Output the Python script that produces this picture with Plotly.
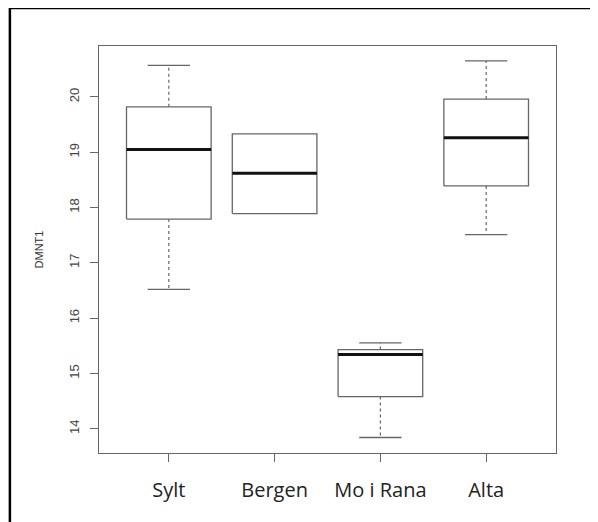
import plotly.graph_objects as go

# ---- data ----
categories = ["Sylt", "Bergen", "Mo i Rana", "Alta"]
lower_whisker = [16.52, 17.89, 13.84, 17.51]
q1 = [17.79, 17.89, 14.58, 18.39]
median = [19.05, 18.62, 15.34, 19.26]
q3 = [19.82, 19.33, 15.43, 19.96]
upper_whisker = [20.57, 19.33, 15.55, 20.65]
y_ticks = [14, 15, 16, 17, 18, 19, 20]
y_label = "DMNT1"

positions = list(range(1, len(categories) + 1))
half_box = 0.4
half_staple = 0.2
gray = "#666666"

def segs(pairs):
    xs, ys = [], []
    for (x0, y0, x1, y1) in pairs:
        xs += [x0, x1, None]
        ys += [y0, y1, None]
    return xs, ys

fig = go.Figure()

# boxes
bx, by = [], []
for p, a, b in zip(positions, q1, q3):
    bx += [p - half_box, p + half_box, p + half_box, p - half_box, p - half_box, None]
    by += [a, a, b, b, a, None]
fig.add_trace(go.Scatter(x=bx, y=by, mode="lines", line=dict(color=gray, width=1.3),
                         hoverinfo="skip", showlegend=False))

# dashed whiskers
wx, wy = segs([(p, b, p, u) for p, b, u in zip(positions, q3, upper_whisker) if u > b] +
              [(p, a, p, l) for p, a, l in zip(positions, q1, lower_whisker) if l < a])
fig.add_trace(go.Scatter(x=wx, y=wy, mode="lines", line=dict(color=gray, width=1.2, dash="3px,3px"),
                         hoverinfo="skip", showlegend=False))

# staples
sx, sy = segs([(p - half_staple, u, p + half_staple, u) for p, u, b in zip(positions, upper_whisker, q3) if u > b] +
              [(p - half_staple, l, p + half_staple, l) for p, l, a in zip(positions, lower_whisker, q1) if l < a])
fig.add_trace(go.Scatter(x=sx, y=sy, mode="lines", line=dict(color=gray, width=1.3),
                         hoverinfo="skip", showlegend=False))

# medians
mx, my = segs([(p - half_box, m, p + half_box, m) for p, m in zip(positions, median)])
fig.add_trace(go.Scatter(x=mx, y=my, mode="lines", line=dict(color="#111111", width=3),
                         hoverinfo="skip", showlegend=False))

fig.update_layout(
    width=590, height=514,
    margin=dict(l=91, r=42, t=38, b=69),
    paper_bgcolor="white", plot_bgcolor="white",
    showlegend=False,
    xaxis=dict(range=[0.34, 4.66], tickmode="array", tickvals=positions, ticktext=categories,
               ticks="outside", ticklen=8, tickcolor=gray, tickwidth=1.2,
               showline=True, linecolor=gray, linewidth=1.3, mirror=True,
               showgrid=False, zeroline=False, ticklabelstandoff=11,
               tickfont=dict(family="Open Sans", size=20, color="#222222")),
    yaxis=dict(range=[13.56, 20.92], tickmode="array", tickvals=y_ticks,
               ticks="outside", ticklen=8, tickcolor=gray, tickwidth=1.2,
               showline=True, linecolor=gray, linewidth=1.3, mirror=True,
               showgrid=False, zeroline=False, tickangle=-90, ticklabelstandoff=6,
               tickfont=dict(family="Liberation Sans", size=13, color="#444444"),
               title=dict(text=y_label, standoff=20,
                          font=dict(family="Liberation Sans", size=11, color="#333333"))),
    shapes=[
        dict(type="line", xref="paper", yref="paper", x0=-0.195, x1=1.2, y0=0.9992, y1=0.9992,
             line=dict(color="black", width=2.5), yanchor=None),
        dict(type="line", xref="paper", yref="paper", x0=-0.195, x1=-0.195, y0=1.0, y1=-0.3,
             line=dict(color="black", width=2.5)),
    ],
)
# frame top edge sits at the very top of the figure
fig.layout.shapes[0].y0 = (444.7 - 38 + 38) / 406.7
fig.layout.shapes[0].y1 = fig.layout.shapes[0].y0
fig.layout.shapes[1].y0 = fig.layout.shapes[0].y0

fig.write_html("out.html")
